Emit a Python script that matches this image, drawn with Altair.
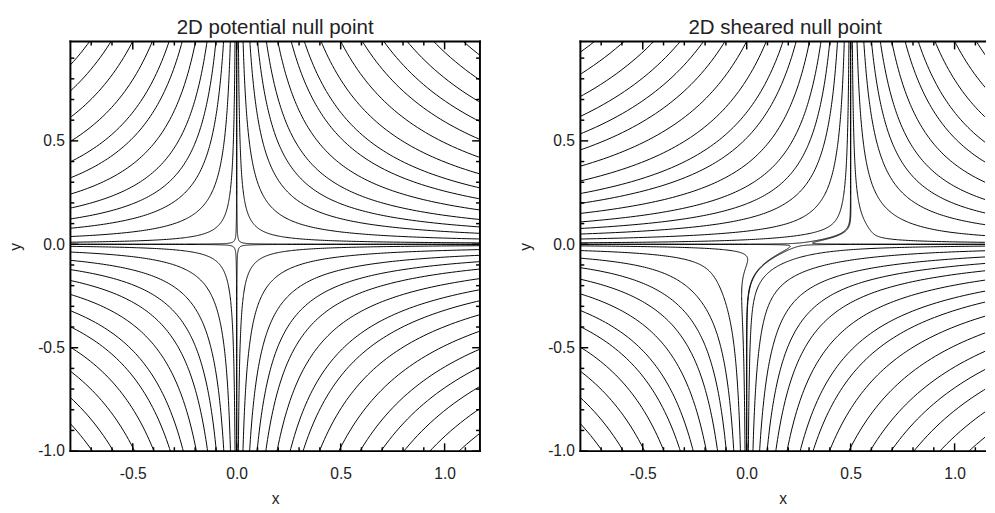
import numpy as np
import pandas as pd
import altair as alt

# ---- values ----
# |A| of each plotted field line (flux-function level), same set in every quadrant
levels = [0.0002, 0.008, 0.03, 0.062, 0.098, 0.14, 0.194, 0.257, 0.319,
          0.398, 0.491, 0.593, 0.694, 0.804, 0.929, 1.069, 1.208]
x_range_left = [-0.8, 1.17]
x_range_right = [-0.8, 1.1465]   # right panel is cut by the picture edge
y_range = [-1.0, 0.98]
shear_shifts = [0.0, 0.5]        # x of upper separatrix (0 = potential null)
shear_width_up = 0.045
shear_width_low = 0.12
titles = ["2D potential null point", "2D sheared null point"]
x_major = [-0.5, 0.0, 0.5, 1.0]
x_minor = [-0.7, -0.6, -0.4, -0.3, -0.2, -0.1, 0.1, 0.2, 0.3, 0.4, 0.6, 0.7, 0.8, 0.9, 1.1]
y_major = [-1.0, -0.5, 0.0, 0.5]
y_minor = [-0.9, -0.8, -0.7, -0.6, -0.4, -0.3, -0.2, -0.1, 0.1, 0.2, 0.3, 0.4, 0.6, 0.7, 0.8, 0.9]

FONT = "Liberation Sans"
TXT = "#222222"
H = 420
W_LEFT = 420
W_RIGHT = 415
LABEL_EXPR = "datum.value < 0 ? '-' + format(abs(datum.value), '.1f') : format(datum.value, '.1f')"


def field_lines(shift, xr, yr):
    # contours of A = (x - s(y)) * y, s(y) a smooth step from 0 (y<0) to shift (y>0)
    t = np.geomspace(1e-5, 1.08, 520)
    x0, x1 = xr
    y0, y1 = yr
    recs = []
    seg = 0
    for a in levels:
        for hs in (1.0, -1.0):
            y = hs * t
            w = shear_width_up if hs > 0 else shear_width_low
            s = shift * 0.5 * (1.0 + np.tanh(y / w))
            for sg in (1.0, -1.0):
                x = s + sg * a / y
                inside = (x > x0 - 0.01) & (x < x1 + 0.01) & (y > y0 - 0.01) & (y < y1 + 0.01)
                keep = inside.copy()
                keep[1:] |= inside[:-1]
                keep[:-1] |= inside[1:]
                idx = np.flatnonzero(keep)
                if idx.size < 2:
                    continue
                breaks = np.flatnonzero(np.diff(idx) > 1)
                for run in np.split(idx, breaks + 1):
                    if run.size < 2:
                        continue
                    seg += 1
                    for k, j in enumerate(run):
                        recs.append((round(float(x[j]), 4), round(float(y[j]), 4), seg, k))
    return pd.DataFrame(recs, columns=["x", "y", "seg", "i"])


def panel(shift, title, xr, W, right_frame):
    xs = alt.Scale(domain=xr, nice=False, zero=False)
    ys = alt.Scale(domain=y_range, nice=False, zero=False)
    xax = alt.Axis(values=x_major, labelExpr=LABEL_EXPR, ticks=False, domain=False, grid=False,
                   title="x", labelPadding=15, titlePadding=10, tickSize=0)
    yax = alt.Axis(values=y_major, labelExpr=LABEL_EXPR, ticks=False, domain=False, grid=False,
                   title="y", labelPadding=6, titlePadding=14, tickSize=0,
                   minExtent=34, maxExtent=34)
    df = field_lines(shift, xr, y_range)
    lines = alt.Chart(df).mark_line(clip=True, color="black", strokeWidth=1).encode(
        x=alt.X("x:Q", scale=xs, axis=xax),
        y=alt.Y("y:Q", scale=ys, axis=yax),
        detail="seg:N",
        order="i:Q",
    )
    layers = [lines]
    rule = dict(color="black", strokeWidth=1.5)

    def xticks(vals, ln):
        d = pd.DataFrame({"x": vals})
        b = alt.Chart(d).mark_rule(**rule).encode(
            x=alt.X("x:Q", scale=xs, axis=xax), y=alt.value(H), y2=alt.value(H - ln))
        t = alt.Chart(d).mark_rule(**rule).encode(
            x=alt.X("x:Q", scale=xs, axis=xax), y=alt.value(0), y2=alt.value(ln))
        return [b, t]

    def yticks(vals, ln):
        d = pd.DataFrame({"y": vals})
        out = [alt.Chart(d).mark_rule(**rule).encode(
            y=alt.Y("y:Q", scale=ys, axis=yax), x=alt.value(0), x2=alt.value(ln))]
        if right_frame:
            out.append(alt.Chart(d).mark_rule(**rule).encode(
                y=alt.Y("y:Q", scale=ys, axis=yax), x=alt.value(W), x2=alt.value(W - ln)))
        return out

    layers += xticks(x_major, 8) + xticks(x_minor, 4) + yticks(y_major, 8) + yticks(y_minor, 4)

    one = pd.DataFrame({"k": [0]})
    fr = dict(color="black", strokeWidth=2, strokeCap="square")
    layers.append(alt.Chart(one).mark_rule(**fr).encode(x=alt.value(0), x2=alt.value(W), y=alt.value(H)))
    layers.append(alt.Chart(one).mark_rule(**fr).encode(x=alt.value(0), x2=alt.value(W), y=alt.value(0)))
    layers.append(alt.Chart(one).mark_rule(**fr).encode(x=alt.value(0), y=alt.value(0), y2=alt.value(H)))
    if right_frame:
        layers.append(alt.Chart(one).mark_rule(**fr).encode(x=alt.value(W), y=alt.value(0), y2=alt.value(H)))

    ttl = pd.DataFrame({"t": [title]})
    layers.append(alt.Chart(ttl).mark_text(
        font=FONT, fontSize=21, color=TXT, align="center", baseline="alphabetic"
    ).encode(text="t:N", x=alt.value(210), y=alt.value(-8)))

    return alt.layer(*layers).properties(width=W, height=H)


left = panel(shear_shifts[0], titles[0], x_range_left, W_LEFT, True)
right = panel(shear_shifts[1], titles[1], x_range_right, W_RIGHT, False)

chart = alt.hconcat(left, right, spacing=37).properties(
    padding={"left": 0, "top": 3, "right": 0, "bottom": 0}
).configure_view(stroke=None).configure_axis(
    labelFont=FONT, titleFont=FONT, labelFontSize=16, titleFontSize=16,
    labelColor=TXT, titleColor=TXT, titleFontWeight="normal",
)

chart.save("out.html", embed_options={"renderer": "svg", "actions": False})
